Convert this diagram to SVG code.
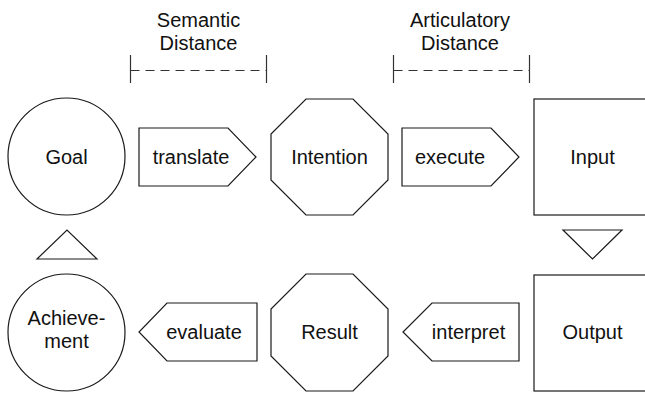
<svg xmlns="http://www.w3.org/2000/svg" width="645" height="393" viewBox="0 0 645 393">
  <style>
    .shape { fill: #ffffff; stroke: #1a1a1a; stroke-width: 1.2; }
    .lbl { font-family: "Liberation Sans", Arial, sans-serif; font-size: 20px; fill: #111111; text-anchor: middle; }
    .tick { stroke: #333333; stroke-width: 1.2; fill: none; }
    .dash { stroke: #333333; stroke-width: 1.2; fill: none; stroke-dasharray: 9 6; }
  </style>
  <rect width="645" height="393" fill="#ffffff"/>

  <!-- distance brackets -->
  <g id="semantic-distance">
    <text class="lbl" x="198.5" y="27">Semantic</text>
    <text class="lbl" x="198.5" y="50">Distance</text>
    <line class="tick" x1="130.5" y1="55" x2="130.5" y2="83"/>
    <line class="tick" x1="266.5" y1="55" x2="266.5" y2="83"/>
    <line class="dash" x1="130.5" y1="70.5" x2="266.5" y2="70.5"/>
  </g>
  <g id="articulatory-distance">
    <text class="lbl" x="460" y="27">Articulatory</text>
    <text class="lbl" x="460" y="50">Distance</text>
    <line class="tick" x1="393.5" y1="55" x2="393.5" y2="83"/>
    <line class="tick" x1="529.5" y1="55" x2="529.5" y2="83"/>
    <line class="dash" x1="393.5" y1="70.5" x2="529.5" y2="70.5"/>
  </g>

  <!-- top row -->
  <g id="goal">
    <circle class="shape" cx="66.5" cy="156.5" r="58.5"/>
    <text class="lbl" x="66.5" y="163.5">Goal</text>
  </g>
  <g id="translate">
    <polygon class="shape" points="139,128 228,128 256,157 228,186 139,186"/>
    <text class="lbl" x="191" y="164">translate</text>
  </g>
  <g id="intention">
    <polygon class="shape" points="306,99 353,99 388,134 388,180 353,215 306,215 271,180 271,134"/>
    <text class="lbl" x="329.5" y="164">Intention</text>
  </g>
  <g id="execute">
    <polygon class="shape" points="402,128 491,128 519,157 491,186 402,186"/>
    <text class="lbl" x="450" y="164">execute</text>
  </g>
  <g id="input">
    <rect class="shape" x="534" y="99" width="117" height="116"/>
    <text class="lbl" x="592.5" y="164">Input</text>
  </g>

  <!-- direction markers -->
  <g id="connectors">
    <polygon class="shape" points="37,259 97,259 67,230"/>
    <polygon class="shape" points="563,230 622,230 592.5,259"/>
  </g>

  <!-- bottom row -->
  <g id="achievement">
    <circle class="shape" cx="66.5" cy="332.5" r="58.5"/>
    <text class="lbl" x="66.5" y="325">Achieve-</text>
    <text class="lbl" x="66.5" y="348">ment</text>
  </g>
  <g id="evaluate">
    <polygon class="shape" points="167,303 257,303 257,361 167,361 139,332"/>
    <text class="lbl" x="204" y="339">evaluate</text>
  </g>
  <g id="result">
    <polygon class="shape" points="306,274 353,274 388,309 388,356 353,391 306,391 271,356 271,309"/>
    <text class="lbl" x="329.5" y="339">Result</text>
  </g>
  <g id="interpret">
    <polygon class="shape" points="432,303 519,303 519,361 432,361 403,332"/>
    <text class="lbl" x="468.5" y="339">interpret</text>
  </g>
  <g id="output">
    <rect class="shape" x="534" y="275" width="117" height="116"/>
    <text class="lbl" x="592.5" y="339">Output</text>
  </g>
</svg>
